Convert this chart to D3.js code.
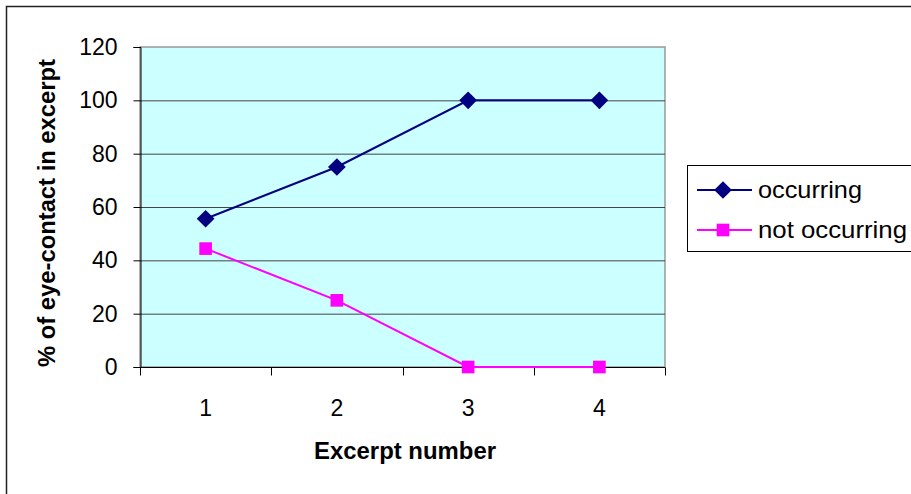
<!DOCTYPE html>
<html>
<head>
<meta charset="utf-8">
<script src="https://cdn.jsdelivr.net/npm/d3@7"></script>
<style>
  body { margin: 0; background: #fff; }
  svg { display: block; font-family: "Liberation Sans", Arial, sans-serif; }
</style>
</head>
<body>
<div id="chart"></div>
<script>
var excerpts = ['1', '2', '3', '4'];
var occurring = [55.6, 75, 100, 100];
var notOccurring = [44.4, 25, 0, 0];
var yTicks = [0, 20, 40, 60, 80, 100, 120];

var w = 911, h = 494;
var plot = { left: 140, top: 47, right: 665, bottom: 367 };

var svg = d3.select('#chart').append('svg').attr('width', w).attr('height', h);

// outer chart border (runs off the right and bottom)
svg.append('rect')
  .attr('x', 6.5).attr('y', 6.5)
  .attr('width', w + 10).attr('height', h + 10)
  .attr('fill', 'white').attr('stroke', '#222').attr('stroke-width', 1.5);

var x = d3.scaleBand().domain(excerpts).range([plot.left, plot.right]);
var y = d3.scaleLinear().domain([0, 120]).range([plot.bottom, plot.top]);

// plot area
svg.append('rect')
  .attr('x', plot.left).attr('y', plot.top)
  .attr('width', plot.right - plot.left).attr('height', plot.bottom - plot.top)
  .attr('fill', '#ccffff').attr('stroke', '#999').attr('stroke-width', 1.5);

// gridlines
svg.append('g').selectAll('line')
  .data(yTicks.filter(function (d) { return d > 0 && d < 120; }))
  .enter().append('line')
  .attr('x1', plot.left).attr('x2', plot.right)
  .attr('y1', function (d) { return y(d) + 0.5; })
  .attr('y2', function (d) { return y(d) + 0.5; })
  .attr('stroke', '#444').attr('stroke-width', 1);

// y axis
var yAxis = svg.append('g')
  .attr('transform', 'translate(' + (plot.left + 0.5) + ',0)')
  .call(d3.axisLeft(y).tickValues(yTicks).tickSize(7).tickPadding(16));
yAxis.selectAll('text').style('font-size', '23px').attr('fill', '#000');
yAxis.selectAll('line').attr('stroke', '#000');
yAxis.select('.domain').attr('stroke', '#000');

// x axis: ticks between categories
var xAxis = svg.append('g').attr('transform', 'translate(0,' + (plot.bottom + 0.5) + ')');
xAxis.append('line')
  .attr('x1', plot.left).attr('x2', plot.right)
  .attr('stroke', '#000');
var bounds = excerpts.map(function (d) { return x(d); }).concat([x(excerpts[3]) + x.bandwidth()]);
xAxis.selectAll('line.tk').data(bounds).enter().append('line')
  .attr('class', 'tk')
  .attr('x1', function (d) { return Math.round(d) + 0.5; })
  .attr('x2', function (d) { return Math.round(d) + 0.5; })
  .attr('y1', 0).attr('y2', 8)
  .attr('stroke', '#000');
xAxis.selectAll('text').data(excerpts).enter().append('text')
  .attr('x', function (d) { return x(d) + x.bandwidth() / 2; })
  .attr('y', 48)
  .attr('text-anchor', 'middle')
  .style('font-size', '23px')
  .text(function (d) { return d; });

// axis titles
svg.append('text')
  .attr('x', 405).attr('y', 459)
  .attr('text-anchor', 'middle')
  .style('font-size', '23px').style('font-weight', 'bold')
  .attr('textLength', 182).attr('lengthAdjust', 'spacingAndGlyphs')
  .text('Excerpt number');
svg.append('text')
  .attr('transform', 'translate(55,' + ((plot.top + plot.bottom) / 2 + 6) + ') rotate(-90)')
  .attr('text-anchor', 'middle')
  .style('font-size', '23px').style('font-weight', 'bold')
  .attr('textLength', 308).attr('lengthAdjust', 'spacingAndGlyphs')
  .text('% of eye-contact in excerpt');

var cx = function (d, i) { return x(excerpts[i]) + x.bandwidth() / 2; };
var line = d3.line().x(cx).y(function (d) { return y(d); });

var diamond = d3.symbol().type(d3.symbolDiamond2).size(200);
var square = d3.symbol().type(d3.symbolSquare).size(160);

// not occurring series
svg.append('path').datum(notOccurring)
  .attr('d', line).attr('fill', 'none').attr('stroke', '#ff00ff').attr('stroke-width', 2);
svg.selectAll('path.sq').data(notOccurring).enter().append('path')
  .attr('class', 'sq')
  .attr('d', square)
  .attr('transform', function (d, i) { return 'translate(' + cx(d, i) + ',' + y(d) + ')'; })
  .attr('fill', '#ff00ff');

// occurring series
svg.append('path').datum(occurring)
  .attr('d', line).attr('fill', 'none').attr('stroke', '#000080').attr('stroke-width', 2);
svg.selectAll('path.dm').data(occurring).enter().append('path')
  .attr('class', 'dm')
  .attr('d', diamond)
  .attr('transform', function (d, i) { return 'translate(' + cx(d, i) + ',' + y(d) + ')'; })
  .attr('fill', '#000080');

// legend
var legend = svg.append('g');
legend.append('rect')
  .attr('x', 687.5).attr('y', 165.5).attr('width', 250).attr('height', 86)
  .attr('fill', 'white').attr('stroke', '#000').attr('stroke-width', 1);
var items = [
  { name: 'occurring', color: '#000080', sym: diamond, y: 190, len: 104 },
  { name: 'not occurring', color: '#ff00ff', sym: square, y: 230, len: 149 }
];
var li = legend.selectAll('g.item').data(items).enter().append('g').attr('class', 'item');
li.append('line')
  .attr('x1', 697).attr('x2', 752)
  .attr('y1', function (d) { return d.y; }).attr('y2', function (d) { return d.y; })
  .attr('stroke', function (d) { return d.color; }).attr('stroke-width', 2);
li.append('path')
  .attr('d', function (d) { return d.sym(); })
  .attr('transform', function (d) { return 'translate(723,' + d.y + ')'; })
  .attr('fill', function (d) { return d.color; });
li.append('text')
  .attr('x', 758).attr('y', function (d) { return d.y + 8; })
  .style('font-size', '24px')
  .attr('textLength', function (d) { return d.len; }).attr('lengthAdjust', 'spacingAndGlyphs')
  .text(function (d) { return d.name; });
</script>
</body>
</html>
